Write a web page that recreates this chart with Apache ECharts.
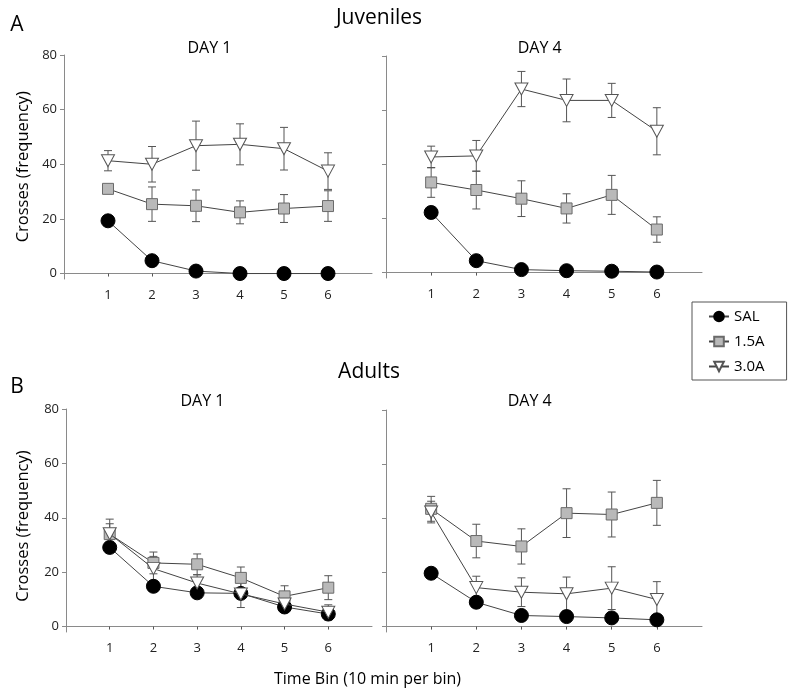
<!DOCTYPE html>
<html>
<head>
<meta charset="utf-8">
<script src="https://cdn.jsdelivr.net/npm/echarts@6/dist/echarts.min.js"></script>
<style>
html,body{margin:0;padding:0;background:#fff;}
#chart{width:800px;height:697px;}
</style>
</head>
<body>
<div id="chart"></div>
<script>
// ---- data ----
const bins = [1, 2, 3, 4, 5, 6];
const yTicks = [0, 20, 40, 60, 80];
const groupNames = ['SAL', '1.5A', '3.0A'];

// Juveniles DAY 1
const juvD1_SAL = [19.3, 4.7, 0.9, 0, 0, 0];
const juvD1_SAL_err = [1, 0.5, 0.3, 0, 0, 0];
const juvD1_15A = [31.0, 25.4, 24.8, 22.4, 23.8, 24.7];
const juvD1_15A_err = [1.5, 6.3, 5.8, 4.2, 5.1, 5.6];
const juvD1_30A = [41.3, 40.0, 46.8, 47.3, 45.7, 37.5];
const juvD1_30A_err = [3.7, 6.5, 9.0, 7.5, 7.8, 6.7];

// Juveniles DAY 4
const juvD4_SAL = [22.2, 4.4, 1.1, 0.7, 0.5, 0.2];
const juvD4_SAL_err = [2, 0.5, 0.3, 0.3, 0.3, 0.3];
const juvD4_15A = [33.3, 30.5, 27.3, 23.7, 28.7, 15.9];
const juvD4_15A_err = [5.5, 7.0, 6.6, 5.4, 7.2, 4.7];
const juvD4_30A = [42.7, 43.1, 67.8, 63.6, 63.6, 52.2];
const juvD4_30A_err = [4.0, 5.7, 6.5, 7.9, 6.3, 8.7];

// Adults DAY 1
const adD1_SAL = [29.1, 14.8, 12.4, 12.2, 7.2, 4.6];
const adD1_SAL_err = [2, 1.8, 1.8, 1.5, 1, 2.2];
const adD1_15A = [34.0, 23.4, 22.9, 17.9, 11.1, 14.3];
const adD1_15A_err = [3.8, 4.0, 3.8, 4.0, 3.9, 4.4];
const adD1_30A = [34.1, 21.3, 16.0, 12.0, 8.3, 5.3];
const adD1_30A_err = [5.4, 4.5, 3.0, 5.0, 2.0, 2.7];

// Adults DAY 4
const adD4_SAL = [19.7, 9.0, 4.1, 3.7, 3.2, 2.5];
const adD4_SAL_err = [1, 1, 1, 1, 1, 1];
const adD4_15A = [43.5, 31.6, 29.6, 41.9, 41.4, 45.7];
const adD4_15A_err = [4.6, 6.2, 6.5, 9.0, 8.3, 8.3];
const adD4_30A = [42.3, 14.4, 12.7, 12.1, 14.2, 10.0];
const adD4_30A_err = [4.0, 4.2, 5.3, 6.2, 7.9, 6.6];

const panels = [
  [[juvD1_SAL, juvD1_SAL_err], [juvD1_15A, juvD1_15A_err], [juvD1_30A, juvD1_30A_err]],
  [[juvD4_SAL, juvD4_SAL_err], [juvD4_15A, juvD4_15A_err], [juvD4_30A, juvD4_30A_err]],
  [[adD1_SAL, adD1_SAL_err], [adD1_15A, adD1_15A_err], [adD1_30A, adD1_30A_err]],
  [[adD4_SAL, adD4_SAL_err], [adD4_15A, adD4_15A_err], [adD4_30A, adD4_30A_err]]
];

// ---- styles ----
const FONT = '"Open Sans", "Noto Sans", sans-serif';
const grids = [
  {left: 64, top: 55, width: 308, height: 224},
  {left: 386, top: 56, width: 316, height: 222},
  {left: 66, top: 409, width: 306, height: 223},
  {left: 386, top: 410, width: 316, height: 222}
];
const symbolStyles = [
  {symbol: 'circle', symbolSize: 14, symbolRotate: 0, itemStyle: {color: '#000', borderColor: '#000', borderWidth: 1}},
  {symbol: 'rect', symbolSize: 11, symbolRotate: 0, itemStyle: {color: '#b9b9b9', borderColor: '#6a6a6a', borderWidth: 1}},
  {symbol: 'triangle', symbolSize: [13, 12], symbolRotate: 180, itemStyle: {color: '#fff', borderColor: '#555', borderWidth: 1}}
];

const xAxes = grids.map((g, i) => ({
  type: 'value', gridIndex: i, min: 0, max: 7,
  axisLine: {show: true, lineStyle: {color: '#8a8a8a', width: 1}},
  axisTick: {show: true, length: 3, customValues: bins, lineStyle: {color: '#555'}},
  axisLabel: {customValues: bins, fontSize: 13, color: '#222', margin: 10, fontFamily: FONT},
  splitLine: {show: false}
}));
const yAxes = grids.map((g, i) => ({
  type: 'value', gridIndex: i, min: -2, max: 80,
  axisLine: {show: true, lineStyle: {color: '#8a8a8a', width: 1}},
  axisTick: {show: true, length: 4, customValues: yTicks, lineStyle: {color: '#8a8a8a'}},
  axisLabel: {show: i % 2 === 0, customValues: yTicks, fontSize: 13, color: '#222', margin: 7, fontFamily: FONT},
  splitLine: {show: false}
}));

function renderErr(params, api) {
  const x = api.value(0), m = api.value(1), e = api.value(2);
  if (!e) return null;
  const top = api.coord([x, m + e]);
  const bot = api.coord([x, m - e]);
  const hw = 4;
  const st = {stroke: '#555', lineWidth: 1};
  return {
    type: 'group',
    children: [
      {type: 'line', shape: {x1: top[0], y1: top[1], x2: bot[0], y2: bot[1]}, style: st},
      {type: 'line', shape: {x1: top[0] - hw, y1: top[1], x2: top[0] + hw, y2: top[1]}, style: st},
      {type: 'line', shape: {x1: bot[0] - hw, y1: bot[1], x2: bot[0] + hw, y2: bot[1]}, style: st}
    ]
  };
}

const series = [];
panels.forEach((panel, p) => {
  panel.forEach(([vals, errs], g) => {
    series.push({
      type: 'custom', name: 'err' + p + g, xAxisIndex: p, yAxisIndex: p, z: 2,
      renderItem: renderErr, encode: {x: 0, y: 1},
      data: bins.map((b, i) => [b, vals[i], errs[i]]),
      silent: true
    });
  });
  panel.forEach(([vals], g) => {
    const s = symbolStyles[g];
    series.push({
      type: 'line', name: groupNames[g], xAxisIndex: p, yAxisIndex: p, z: 3 + g,
      symbol: s.symbol, symbolSize: s.symbolSize, symbolRotate: s.symbolRotate,
      itemStyle: s.itemStyle,
      lineStyle: {color: '#444', width: 1},
      data: bins.map((b, i) => [b, vals[i]]),
      animation: false
    });
  });
});

function txt(text, x, y, size, rot) {
  return {
    type: 'text', x: x, y: y, rotation: rot || 0,
    style: {text: text, font: size + 'px ' + FONT, fill: '#000',
      textAlign: 'center', textVerticalAlign: 'middle', align: 'center', verticalAlign: 'middle'}
  };
}

const option = {
  backgroundColor: '#fff',
  animation: false,
  grid: grids,
  xAxis: xAxes,
  yAxis: yAxes,
  series: series,
  legend: {
    data: groupNames,
    orient: 'vertical',
    left: 692, top: 302,
    itemWidth: 20, itemHeight: 12, itemGap: 10,
    padding: [7, 22, 6, 16],
    borderColor: '#555', borderWidth: 1,
    textStyle: {fontSize: 15, color: '#000', fontFamily: FONT},
    selectedMode: false
  },
  graphic: [
    txt('A', 17, 25.5, 21),
    txt('Juveniles', 379, 18, 21),
    txt('B', 17, 387.5, 21),
    txt('Adults', 369, 372, 21),
    txt('DAY 1', 209.5, 48, 16),
    txt('DAY 4', 539.7, 48, 16),
    txt('DAY 1', 202.5, 401, 16),
    txt('DAY 4', 529.7, 401.5, 16),
    txt('Time Bin (10 min per bin)', 367.5, 679, 16),
    txt('Crosses (frequency)', 23, 166.7, 16.5, Math.PI / 2),
    txt('Crosses (frequency)', 23.7, 526, 16.5, Math.PI / 2)
  ]
};

const chart = echarts.init(document.getElementById('chart'), null, {renderer: 'canvas'});
chart.setOption(option);
</script>
</body>
</html>
